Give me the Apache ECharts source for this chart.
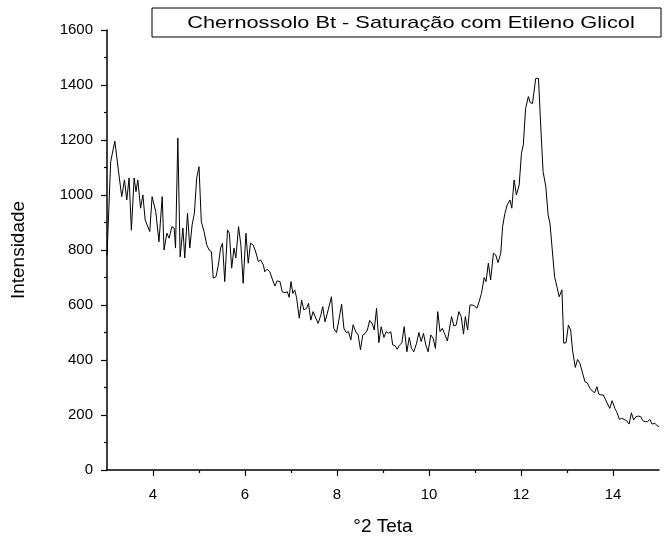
<!DOCTYPE html>
<html>
<head>
<meta charset="utf-8">
<script src="https://cdn.jsdelivr.net/npm/echarts@6/dist/echarts.min.js"></script>
<style>
html,body{margin:0;padding:0;background:#fff;}
#chart{width:670px;height:543px;}
</style>
</head>
<body>
<div id="chart"></div>
<script>
const titleText = 'Chernossolo Bt - Saturação com Etileno Glicol';
const xName = '°2 Teta';
const yName = 'Intensidade';
const xTickValues = [4, 6, 8, 10, 12, 14];
const xMinorTickValues = [5, 7, 9, 11, 13];
const twoTheta = [
3.00,3.08,3.17,3.26,3.32,3.38,3.43,3.48,3.53,3.59,3.63,3.67,3.73,3.78,3.83,3.93,3.98,4.06,4.13,4.20,
4.24,4.30,4.35,4.41,4.46,4.49,4.54,4.59,4.65,4.69,4.75,4.80,4.85,4.90,4.95,5.00,5.05,5.11,5.17,5.22,
5.27,5.31,5.37,5.42,5.47,5.51,5.56,5.62,5.66,5.71,5.76,5.80,5.86,5.91,5.96,6.02,6.07,6.12,6.18,6.24,
6.29,6.34,6.40,6.43,6.48,6.54,6.60,6.65,6.70,6.76,6.81,6.87,6.92,6.96,7.00,7.04,7.08,7.12,7.18,7.23,
7.28,7.34,7.38,7.43,7.48,7.54,7.59,7.65,7.69,7.74,7.79,7.83,7.88,7.93,7.99,8.04,8.10,8.15,8.20,8.25,
8.30,8.35,8.41,8.46,8.51,8.56,8.61,8.66,8.71,8.77,8.81,8.86,8.91,8.96,9.02,9.07,9.12,9.17,9.21,9.26,
9.31,9.35,9.41,9.46,9.52,9.57,9.62,9.67,9.73,9.78,9.83,9.88,9.93,9.98,10.04,10.09,10.14,10.19,10.24,10.29,
10.35,10.40,10.44,10.49,10.54,10.59,10.65,10.70,10.75,10.79,10.84,10.89,10.94,10.99,11.04,11.09,11.14,11.20,11.24,11.29,
11.34,11.40,11.45,11.50,11.56,11.60,11.65,11.70,11.76,11.80,11.85,11.90,11.96,12.01,12.05,12.10,12.16,12.20,12.25,12.32,
12.38,12.43,12.48,12.54,12.59,12.63,12.68,12.73,12.78,12.83,12.89,12.93,12.98,13.03,13.08,13.12,13.18,13.23,13.28,13.34,
13.39,13.44,13.50,13.55,13.60,13.65,13.69,13.74,13.79,13.84,13.88,13.93,13.98,14.04,14.08,14.14,14.19,14.24,14.30,14.35,
14.40,14.45,14.50,14.55,14.60,14.65,14.70,14.75,14.80,14.85,14.91,14.96,15.00
];
const intensity = [
780,1121,1196,1073,994,1055,982,1062,872,1062,1012,1055,952,1000,909,867,994,940,830,994,
800,861,843,885,880,807,1207,775,880,771,934,807,891,934,1062,1103,903,867,818,800,
794,698,703,745,807,825,685,873,861,734,807,771,885,818,679,861,752,825,818,789,
758,764,745,721,730,721,691,669,688,685,648,645,648,628,685,642,655,628,552,618,
582,588,606,545,576,552,533,564,594,539,570,576,630,515,500,545,603,515,500,503,
473,528,502,491,437,491,496,509,544,531,509,588,463,521,482,503,497,503,455,452,
439,452,463,521,430,482,442,430,461,500,467,497,455,430,491,479,442,576,503,515,
491,469,509,558,524,527,576,558,494,558,509,600,600,597,588,612,642,700,685,752,
691,788,782,754,788,885,933,964,982,952,1055,1000,1036,1152,1182,1315,1358,1336,1333,1424,
1424,1248,1085,1030,927,897,800,703,667,630,655,461,463,527,509,436,373,402,388,352,
321,317,297,287,281,303,276,273,273,255,257,224,252,224,212,184,188,184,179,167,
208,182,194,196,194,179,176,176,184,167,170,161,158
];

const seriesData = twoTheta.map((x, i) => [x, intensity[i]]);
const FONT = '"Liberation Sans", Arial, sans-serif';
const chart = echarts.init(document.getElementById('chart'), null, {renderer: 'canvas'});
chart.setOption({
  animation: false,
  backgroundColor: '#ffffff',
  grid: {left: 107, right: 11, top: 30, bottom: 73, containLabel: false},
  xAxis: [{
    type: 'value', min: 3, max: 15,
    name: xName, nameLocation: 'middle', nameGap: 47,
    nameTextStyle: {fontFamily: FONT, fontSize: 19, color: '#000'},
    axisLine: {show: true, onZero: false, lineStyle: {color: '#000', width: 1.5}},
    axisTick: {show: true, inside: false, length: 6, lineStyle: {color: '#000', width: 1.2}, customValues: xTickValues},
    axisLabel: {show: true, margin: 17, fontFamily: FONT, fontSize: 15, color: '#000', customValues: xTickValues},
    splitLine: {show: false}
  }, {
    type: 'value', min: 3, max: 15, position: 'bottom',
    axisLine: {show: false},
    axisTick: {show: true, inside: false, length: 3, lineStyle: {color: '#000', width: 1.2}, customValues: xMinorTickValues},
    axisLabel: {show: false},
    splitLine: {show: false}
  }],
  yAxis: {
    type: 'value', min: 0, max: 1600, interval: 200,
    name: yName, nameLocation: 'middle', nameGap: 79, nameRotate: 90,
    nameTextStyle: {fontFamily: FONT, fontSize: 19, color: '#000'},
    axisLine: {show: true, onZero: false, lineStyle: {color: '#000', width: 1.5}},
    axisTick: {show: true, inside: false, length: 6, lineStyle: {color: '#000', width: 1.2}},
    minorTick: {show: true, splitNumber: 2, length: 3, lineStyle: {color: '#000', width: 1.2}},
    axisLabel: {margin: 14, fontFamily: FONT, fontSize: 15, color: '#000', formatter: (v) => String(v)},
    splitLine: {show: false},
    minorSplitLine: {show: false}
  },
  graphic: [{
    type: 'rect',
    shape: {x: 152, y: 8, width: 509, height: 29},
    style: {fill: '#fff', stroke: '#000', lineWidth: 1},
    z: 10
  }, {
    type: 'text',
    x: 411, y: 23,
    scaleX: 1.28,
    style: {text: titleText, font: '17px ' + FONT, fill: '#000', textAlign: 'center', textVerticalAlign: 'middle'},
    z: 11
  }],
  series: [{
    type: 'line',
    xAxisIndex: 0,
    data: seriesData,
    showSymbol: false,
    symbol: 'none',
    lineStyle: {color: '#000', width: 1},
    clip: true
  }]
});
</script>
</body>
</html>
